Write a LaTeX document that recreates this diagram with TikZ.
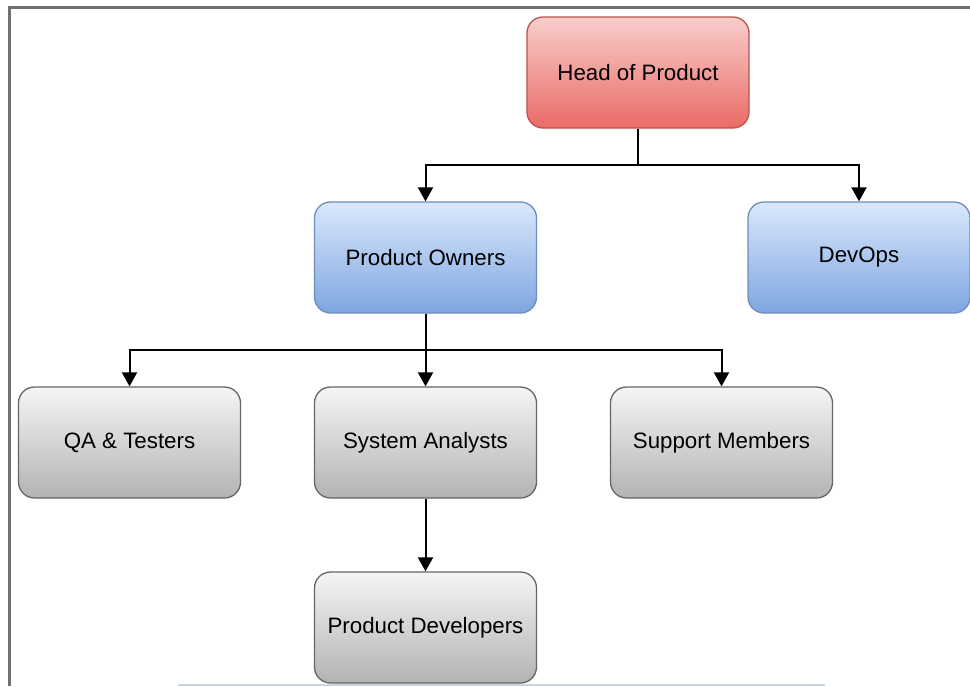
\documentclass[tikz,border=0pt]{standalone}
\usepackage{fontspec}
\setmainfont{Liberation Sans}
\usetikzlibrary{arrows.meta}
\definecolor{redtop}{HTML}{F8CECC}
\definecolor{redbot}{HTML}{EA6B66}
\definecolor{redline}{HTML}{B85450}
\definecolor{bluetop}{HTML}{DAE8FC}
\definecolor{bluebot}{HTML}{7EA6E0}
\definecolor{blueline}{HTML}{6C8EBF}
\definecolor{greytop}{HTML}{F5F5F5}
\definecolor{greybot}{HTML}{B3B3B3}
\definecolor{greyline}{HTML}{666666}
\definecolor{frameline}{HTML}{707070}
\definecolor{sliver}{HTML}{C9D5E2}
\tikzset{
  box/.style={rectangle, rounded corners=16pt, minimum width=222pt, minimum height=111pt,
    line width=1.3pt, inner sep=0pt, font=\fontsize{22.3}{26}\selectfont, text=black},
  redbox/.style={box, draw=redline, top color=redtop, bottom color=redbot},
  bluebox/.style={box, draw=blueline, top color=bluetop, bottom color=bluebot},
  greybox/.style={box, draw=greyline, top color=greytop, bottom color=greybot},
  conn/.style={draw=black, line width=2pt, -{Triangle[width=15pt,length=14pt]}}
}
\begin{document}
\begin{tikzpicture}[x=1pt,y=-1pt]
\useasboundingbox (0,0) rectangle (970,686);
\fill[white] (0,0) rectangle (970,686);
% frame lines
\draw[frameline, line width=2.2pt] (9.5,686) -- (9.5,7.5) -- (970,7.5);
\fill[sliver] (178,683.5) rectangle (825,686);
% nodes
\node[redbox] (head) at (638,72.5) {Head of Product};
\node[bluebox] (po) at (425.5,257.5) {Product Owners};
\node[bluebox] (devops) at (859,257.5) {DevOps};
\node[greybox] (qa) at (129.5,442.5) {QA \& Testers};
\node[greybox] (sa) at (425.5,442.5) {System Analysts};
\node[greybox] (sm) at (721.5,442.5) {Support Members};
\node[greybox] (pd) at (425.5,627.5) {Product Developers};
% connectors
\draw[conn] (head.south) -- +(0,36) -| (po.north);
\draw[conn] (head.south) -- +(0,36) -| (devops.north);
\draw[conn] (po.south) -- +(0,36) -| (qa.north);
\draw[conn] (po.south) -- (sa.north);
\draw[conn] (po.south) -- +(0,36) -| (sm.north);
\draw[conn] (sa.south) -- (pd.north);
\end{tikzpicture}
\end{document}
